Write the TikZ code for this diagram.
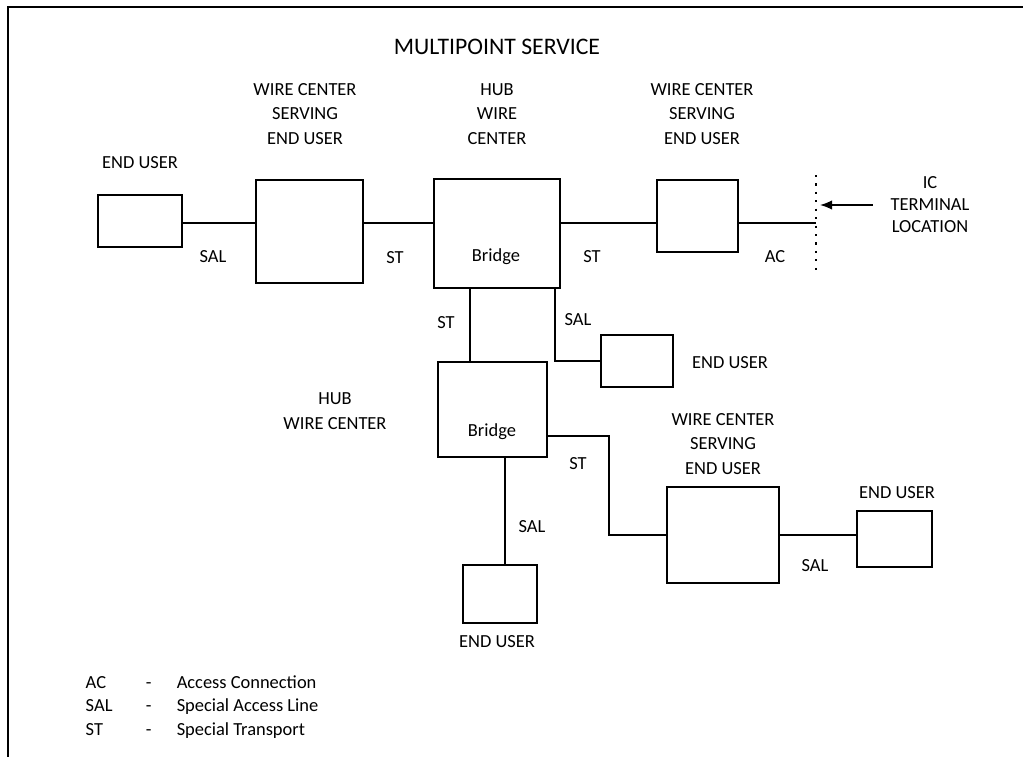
\documentclass[tikz,border=0pt]{standalone}
\usepackage{fontspec}
\setmainfont{Carlito}
\usetikzlibrary{arrows.meta}

\begin{document}
\begin{tikzpicture}[x=0.02cm, y=-0.02cm, line width=0.85pt,
    box/.style={draw, rectangle, line width=1.1pt, inner sep=0pt},
    lbl/.style={align=center, inner sep=0pt, font=\fontsize{10.5}{13.9}\selectfont},
    leg/.style={anchor=base west, inner sep=0pt, font=\fontsize{10.5}{12}\selectfont}]
\useasboundingbox (0,0) rectangle (1023,757);

% Frame
\draw[line width=1.1pt] (1023,7) -- (8,7) -- (8,757);

% Title
\node[inner sep=0pt, font=\fontsize{13.5}{16}\selectfont] (title) at (497,47) {MULTIPOINT SERVICE};

% Boxes
\node[box, minimum width=1.68cm, minimum height=1.04cm] (eu1) at (140,221) {};
\node[box, minimum width=2.14cm, minimum height=2.06cm] (wc1) at (309.5,231.5) {};
\node[box, minimum width=2.52cm, minimum height=2.18cm] (hub1) at (497,233.5) {};
\node[box, minimum width=1.62cm, minimum height=1.44cm] (wc2) at (697.5,216) {};
\node[box, minimum width=1.44cm, minimum height=1.04cm] (eu3) at (637,361) {};
\node[box, minimum width=2.18cm, minimum height=1.90cm] (hub2) at (492.5,409.5) {};
\node[box, minimum width=2.24cm, minimum height=1.92cm] (wc4) at (723,535) {};
\node[box, minimum width=1.50cm, minimum height=1.12cm] (eu5) at (894.5,539) {};
\node[box, minimum width=1.48cm, minimum height=1.16cm] (eu6) at (500,594) {};

% Box labels
\node[lbl] (eu1l) at (140,163) {END USER};
\node[lbl] (wc1l) at (305,114) {WIRE CENTER\\SERVING\\END USER};
\node[lbl] (hub1l) at (497,114) {HUB\\WIRE\\CENTER};
\node[lbl] (wc2l) at (702,114) {WIRE CENTER\\SERVING\\END USER};
\node[lbl] (br1) at (496,257) {Bridge};
\node[lbl] (eu3l) at (730,363) {END USER};
\node[lbl] (hub2l) at (335,411) {HUB\\WIRE CENTER};
\node[lbl] (br2) at (492,432) {Bridge};
\node[lbl] (wc4l) at (723,444) {WIRE CENTER\\SERVING\\END USER};
\node[lbl] (eu5l) at (897,493) {END USER};
\node[lbl] (eu6l) at (497,642) {END USER};
\node[lbl, font=\fontsize{10.5}{12.5}\selectfont] (icl) at (930,205) {IC\\TERMINAL\\LOCATION};

% Helper coordinates
\coordinate (rowA) at (0,223);
\coordinate (rowB) at (0,436);
\coordinate (colA) at (470,0);
\coordinate (colB) at (555,0);
\coordinate (colC) at (609,0);
\coordinate (colD) at (505,0);
\coordinate (icT) at (816,175);
\coordinate (icB) at (816,272);

% Connectors
\draw (eu1.east |- rowA) -- (wc1.west |- rowA);
\draw (wc1.east |- rowA) -- (hub1.west |- rowA);
\draw (hub1.east |- rowA) -- (wc2.west |- rowA);
\draw (wc2.east |- rowA) -- (icT |- rowA);
\draw[line width=1.2pt, dash pattern=on 1.2pt off 3.6pt] (icT) -- (icB);
\draw[-{Latex[length=2.4mm, width=1.9mm]}, shorten <=0.34cm, shorten >=0.08cm] (icl.west) -- (icT |- icl.west);
\draw (hub1.south -| colA) -- (hub2.north -| colA);
\draw (hub1.south -| colB) |- (eu3.west);
\draw (hub2.east |- rowB) -| (colC |- wc4.west) -- (wc4.west);
\draw (wc4.east) -- (wc4.east -| eu5.west);
\draw (hub2.south -| colD) -- (eu6.north -| colD);

% Connector labels
\node[lbl] (sal1) at (213,257) {SAL};
\node[lbl] (st1) at (395,258) {ST};
\node[lbl] (st2) at (592,257) {ST};
\node[lbl] (ac1) at (775,257) {AC};
\node[lbl] (st3) at (446,323) {ST};
\node[lbl] (sal2) at (578,320) {SAL};
\node[lbl] (st4) at (578,464) {ST};
\node[lbl] (sal3) at (815,566) {SAL};
\node[lbl] (sal4) at (532,527) {SAL};

% Legend
\foreach \yy/\ab/\desc in {688/AC/Access Connection, 711/SAL/Special Access Line, 735/ST/Special Transport}{
  \node[leg] at (85,\yy) {\ab};
  \node[leg] at (145,\yy) {-};
  \node[leg] at (176,\yy) {\desc};
}
\end{tikzpicture}
\end{document}
